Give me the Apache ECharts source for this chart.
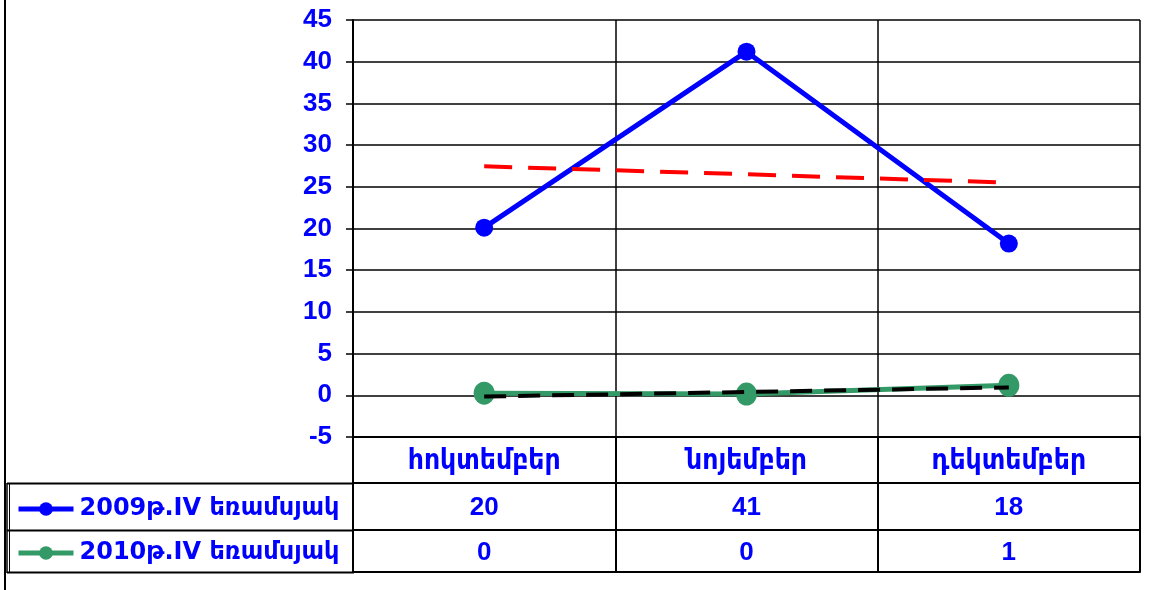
<!DOCTYPE html>
<html>
<head>
<meta charset="utf-8">
<script src="https://cdn.jsdelivr.net/npm/echarts@6/dist/echarts.min.js"></script>
<style>
html,body{margin:0;padding:0;background:#fff;}
#chart{width:1153px;height:590px;}
</style>
</head>
<body>
<div id="chart"></div>
<script>
var categories = ['հոկտեմբեր', 'նոյեմբեր', 'դեկտեմբեր'];
var seriesNames = ['2009թ.IV եռամսյակ', '2010թ.IV եռամսյակ'];
var values2009 = [20.1, 41.2, 18.2];
var values2010 = [0.25, 0.15, 1.2];
var trend2009 = [27.45, 26.5, 25.5];
var trend2010 = [-0.15, 0.4, 0.95];
var yTicks = {min: -5, max: 45, interval: 5};

var FONT = "'Liberation Sans', 'DejaVu Sans Condensed', 'DejaVu Sans', sans-serif";
var LEGEND_FONT = "'DejaVu Sans', sans-serif";
var BLUE = '#0000FF';
var GREEN = '#339966';

function tableRow(vals){ return vals.map(function(v){ return String(Math.round(v)); }); }

var chart = echarts.init(document.getElementById('chart'), null, {renderer: 'canvas'});

var labelStyle = {color: BLUE, fontFamily: FONT, fontWeight: 'bold', fontSize: 26};

function tableAxis(data, offset, tickLen, margin, showLabel){
  return {
    type: 'category', gridIndex: 0, position: 'bottom', offset: offset,
    data: data, boundaryGap: true,
    axisLine: {show: true, onZero: false, lineStyle: {color: '#000', width: 2}},
    axisTick: {show: tickLen > 0, inside: false, length: tickLen, interval: 0, lineStyle: {color: '#000', width: 2}},
    axisLabel: Object.assign({show: showLabel, interval: 0, margin: margin}, labelStyle),
    splitLine: {show: false}
  };
}

var xAxes = [
  {
    type: 'category', gridIndex: 0, position: 'bottom', data: categories, boundaryGap: true,
    axisLine: {show: true, onZero: false, lineStyle: {color: '#000', width: 2}},
    axisTick: {show: true, inside: false, length: 46, interval: 0, lineStyle: {color: '#000', width: 2}},
    axisLabel: Object.assign({interval: 0, margin: 10}, labelStyle, {fontSize: 28}),
    splitLine: {show: true, interval: 0, lineStyle: {color: '#000', width: 1.5}}
  },
  tableAxis(tableRow(values2009), 46, 47, 12, true),
  tableAxis(tableRow(values2010), 93, 42, 10, true),
  tableAxis(['', '', ''], 135, 0, 0, false)
];

function legendFor(name, top, color){
  return {
    data: [name], left: 16, top: top, padding: 0, itemWidth: 55, itemHeight: 17, itemGap: 6,
    lineStyle: {width: 5, color: color},
    itemStyle: {color: color},
    textStyle: {color: BLUE, fontFamily: LEGEND_FONT, fontWeight: 'bold', fontSize: 24, padding: [0, 0, 0, 1]}
  };
}

var option = {
  backgroundColor: '#fff',
  animation: false,
  grid: {left: 353, right: 13, top: 20, bottom: 153, containLabel: false},
  xAxis: xAxes,
  yAxis: {
    type: 'value', min: yTicks.min, max: yTicks.max, interval: yTicks.interval,
    axisLine: {show: true, lineStyle: {color: '#000', width: 2}},
    axisTick: {show: true, length: 7, lineStyle: {color: '#000', width: 1.5}},
    axisLabel: Object.assign({margin: 21}, labelStyle),
    splitLine: {show: true, lineStyle: {color: '#000', width: 1.5}}
  },
  legend: [
    legendFor(seriesNames[0], 497, BLUE),
    legendFor(seriesNames[1], 541, GREEN)
  ],
  series: [
    {
      name: seriesNames[0], type: 'line', data: values2009,
      symbol: 'circle', symbolSize: 18,
      lineStyle: {color: BLUE, width: 5}, itemStyle: {color: BLUE}, z: 3
    },
    {
      name: seriesNames[1], type: 'line', data: values2010,
      symbol: 'circle', symbolSize: [21, 23],
      lineStyle: {color: GREEN, width: 5}, itemStyle: {color: GREEN}, z: 3
    },
    {
      name: 'trend2009', type: 'line', data: trend2009, symbol: 'none',
      lineStyle: {color: '#FF0000', width: 4, type: [28, 16]}, z: 4
    },
    {
      name: 'trend2010', type: 'line', data: trend2010, symbol: 'none',
      lineStyle: {color: '#000', width: 4, type: [22, 12]}, z: 4
    }
  ],
  graphic: [
    {type: 'line', shape: {x1: 5, y1: 0, x2: 5, y2: 590}, style: {stroke: '#000', lineWidth: 2}},
    {type: 'line', shape: {x1: 7, y1: 483, x2: 7, y2: 573}, style: {stroke: '#000', lineWidth: 1.5}},
    {type: 'line', shape: {x1: 9.5, y1: 484, x2: 9.5, y2: 572}, style: {stroke: '#000', lineWidth: 1}},
    {type: 'line', shape: {x1: 7, y1: 483.5, x2: 354, y2: 483.5}, style: {stroke: '#000', lineWidth: 2}},
    {type: 'line', shape: {x1: 7, y1: 530.5, x2: 354, y2: 530.5}, style: {stroke: '#000', lineWidth: 2}},
    {type: 'line', shape: {x1: 7, y1: 572.5, x2: 354, y2: 572.5}, style: {stroke: '#000', lineWidth: 2}}
  ]
};
chart.setOption(option);
</script>
</body>
</html>
